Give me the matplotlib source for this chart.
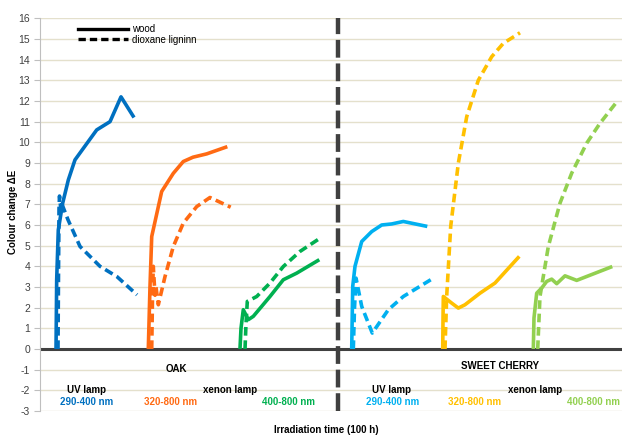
import matplotlib
matplotlib.use('Agg')
import matplotlib.pyplot as plt
from matplotlib.lines import Line2D

plt.rcParams['font.family'] = ['Liberation Sans', 'DejaVu Sans']
plt.rcParams['axes.unicode_minus'] = False

# x = position along the (unlabelled) time axis, y = colour change dE
# OAK
oak_uv_wood_x = [2.67, 2.78, 3.05, 3.78, 4.72, 5.83, 8.05, 9.45, 11.67, 13.5, 15.67]
oak_uv_wood_y = [0, 3.35, 5.76, 7.06, 8.18, 9.15, 10.04, 10.6, 11.0, 12.2, 11.2]
oak_uv_lig_x = [3.0, 3.08, 3.17, 3.25, 3.5, 3.67, 4.67, 6.67, 10.0, 12.83, 16.17]
oak_uv_lig_y = [0, 3.5, 6.8, 7.4, 6.7, 7.0, 6.25, 4.96, 4.0, 3.5, 2.62]
oak_x320_wood_x = [18.05, 18.33, 18.62, 20.28, 22.22, 23.88, 25.5, 27.78, 31.22]
oak_x320_wood_y = [0, 3.0, 5.44, 7.62, 8.5, 9.07, 9.28, 9.44, 9.79]
oak_x320_lig_x = [18.62, 18.75, 18.88, 19.17, 19.33, 19.72, 20.83, 22.22, 23.88, 26.12, 28.33, 31.78]
oak_x320_lig_y = [0, 2.5, 4.0, 2.6, 3.0, 2.14, 3.5, 4.96, 6.09, 6.89, 7.33, 6.86]
oak_x400_wood_x = [33.33, 33.5, 33.88, 34.72, 35.55, 38.33, 40.55, 42.78, 46.55]
oak_x400_wood_y = [0, 1.0, 1.9, 1.42, 1.58, 2.54, 3.35, 3.67, 4.32]
oak_x400_lig_x = [34.17, 34.33, 34.55, 36.12, 38.33, 40.55, 43.33, 46.67]
oak_x400_lig_y = [0, 1.2, 2.3, 2.54, 3.19, 3.99, 4.72, 5.36]

# SWEET CHERRY
ch_uv_wood_x = [51.95, 52.12, 52.5, 53.62, 55.28, 56.95, 58.62, 60.55, 64.55]
ch_uv_wood_y = [0, 3.03, 4.0, 5.2, 5.68, 6.0, 6.05, 6.17, 5.93]
ch_uv_lig_x = [52.22, 52.42, 52.67, 53.62, 55.38, 58.05, 60.55, 65.12]
ch_uv_lig_y = [0, 2.0, 3.43, 2.06, 0.77, 1.9, 2.54, 3.35]
ch_x320_wood_x = [67.12, 67.17, 67.22, 68.62, 69.72, 70.83, 73.33, 75.83, 79.88]
ch_x320_wood_y = [0, 1.5, 2.54, 2.22, 1.98, 2.14, 2.7, 3.19, 4.48]
ch_x320_lig_x = [67.5, 67.78, 68.45, 69.72, 71.12, 73.05, 75.28, 77.22, 80.0]
ch_x320_lig_y = [0, 2.54, 5.93, 8.99, 11.24, 13.0, 14.14, 14.79, 15.3]
ch_x400_wood_x = [82.22, 82.33, 82.78, 83.62, 84.45, 85.28, 86.12, 87.5, 89.45, 95.38]
ch_x400_wood_y = [0, 1.5, 2.7, 2.95, 3.27, 3.38, 3.16, 3.54, 3.32, 3.99]
ch_x400_lig_x = [82.95, 83.33, 84.72, 86.67, 88.62, 91.12, 93.33, 95.95]
ch_x400_lig_y = [0, 2.54, 4.96, 7.06, 8.51, 9.96, 10.92, 11.89]

yticks = list(range(-3, 17))

c_oak = ['#0070C0', '#FF6A13', '#00B050']
c_ch = ['#00B0F0', '#FFC000', '#92D050']

fig = plt.figure(figsize=(6.22, 4.37), dpi=100)
ax = fig.add_axes([40 / 622, 1 - 411 / 437, 582 / 622, (411 - 18.3) / 437])
ax.set_xlim(0, 97)
ax.set_ylim(-3, 16)

for v in yticks:
    if v != 0:
        ax.axhline(v, color='#e4e0cc', lw=1.0, zorder=0)
ax.axhline(0, color='#404040', lw=2.2, zorder=1)

lw = 2.6
dash = (0, (2.4, 1.3))
groups = [
    (oak_uv_wood_x, oak_uv_wood_y, oak_uv_lig_x, oak_uv_lig_y, c_oak[0]),
    (oak_x320_wood_x, oak_x320_wood_y, oak_x320_lig_x, oak_x320_lig_y, c_oak[1]),
    (oak_x400_wood_x, oak_x400_wood_y, oak_x400_lig_x, oak_x400_lig_y, c_oak[2]),
    (ch_uv_wood_x, ch_uv_wood_y, ch_uv_lig_x, ch_uv_lig_y, c_ch[0]),
    (ch_x320_wood_x, ch_x320_wood_y, ch_x320_lig_x, ch_x320_lig_y, c_ch[1]),
    (ch_x400_wood_x, ch_x400_wood_y, ch_x400_lig_x, ch_x400_lig_y, c_ch[2]),
]
for wx, wy, lx, ly, col in groups:
    ax.plot(wx, wy, color=col, lw=lw, solid_capstyle='butt', zorder=3)
    ax.plot(lx, ly, color=col, lw=lw, linestyle=dash, zorder=3)

# divider between wood species
ax.plot([49.6, 49.6], [-3, 16], color='#404040', lw=3.2, linestyle=(0, (4, 1.3)), zorder=2)

ax.set_yticks(yticks)
ax.set_xticks([])
ax.tick_params(axis='y', labelsize=7.5, labelcolor='#404040', color='#bfbfbf', length=4, pad=3)
for s in ['top', 'right', 'bottom']:
    ax.spines[s].set_visible(False)
ax.spines['left'].set_color('#bfbfbf')

fig.text(13 / 622, 1 - 212 / 437, 'Colour change ΔE', rotation=90, fontsize=7,
         fontweight='bold', ha='center', va='center')
fig.text(326 / 622, 1 - 430 / 437, 'Irradiation time (100 h)', fontsize=7,
         fontweight='bold', ha='center', va='center')

tk = dict(fontsize=7, fontweight='bold', ha='center', va='center')
ax.text(22.8, -0.95, 'OAK', **tk)
ax.text(76.7, -0.8, 'SWEET CHERRY', **tk)
ax.text(7.75, -2.0, 'UV lamp', **tk)
ax.text(31.6, -2.0, 'xenon lamp', **tk)
ax.text(58.6, -2.0, 'UV lamp', **tk)
ax.text(82.5, -2.0, 'xenon lamp', **tk)
ax.text(7.8, -2.55, '290-400 nm', color=c_oak[0], **tk)
ax.text(21.7, -2.55, '320-800 nm', color=c_oak[1], **tk)
ax.text(41.5, -2.55, '400-800 nm', color=c_oak[2], **tk)
ax.text(58.7, -2.55, '290-400 nm', color=c_ch[0], **tk)
ax.text(72.5, -2.55, '320-800 nm', color=c_ch[1], **tk)
ax.text(92.3, -2.55, '400-800 nm', color=c_ch[2], **tk)

handles = [Line2D([], [], color='black', lw=2.4),
           Line2D([], [], color='black', lw=2.4, linestyle=(0, (2.2, 1.2)))]
ax.legend(handles, ['wood', 'dioxane ligninn'], loc='upper left',
          bbox_to_anchor=(0.065, 0.985), frameon=False, fontsize=7,
          handlelength=5.2, handletextpad=0.4, labelspacing=0.05,
          borderpad=0, borderaxespad=0)

fig.savefig('out.png', dpi=100)
